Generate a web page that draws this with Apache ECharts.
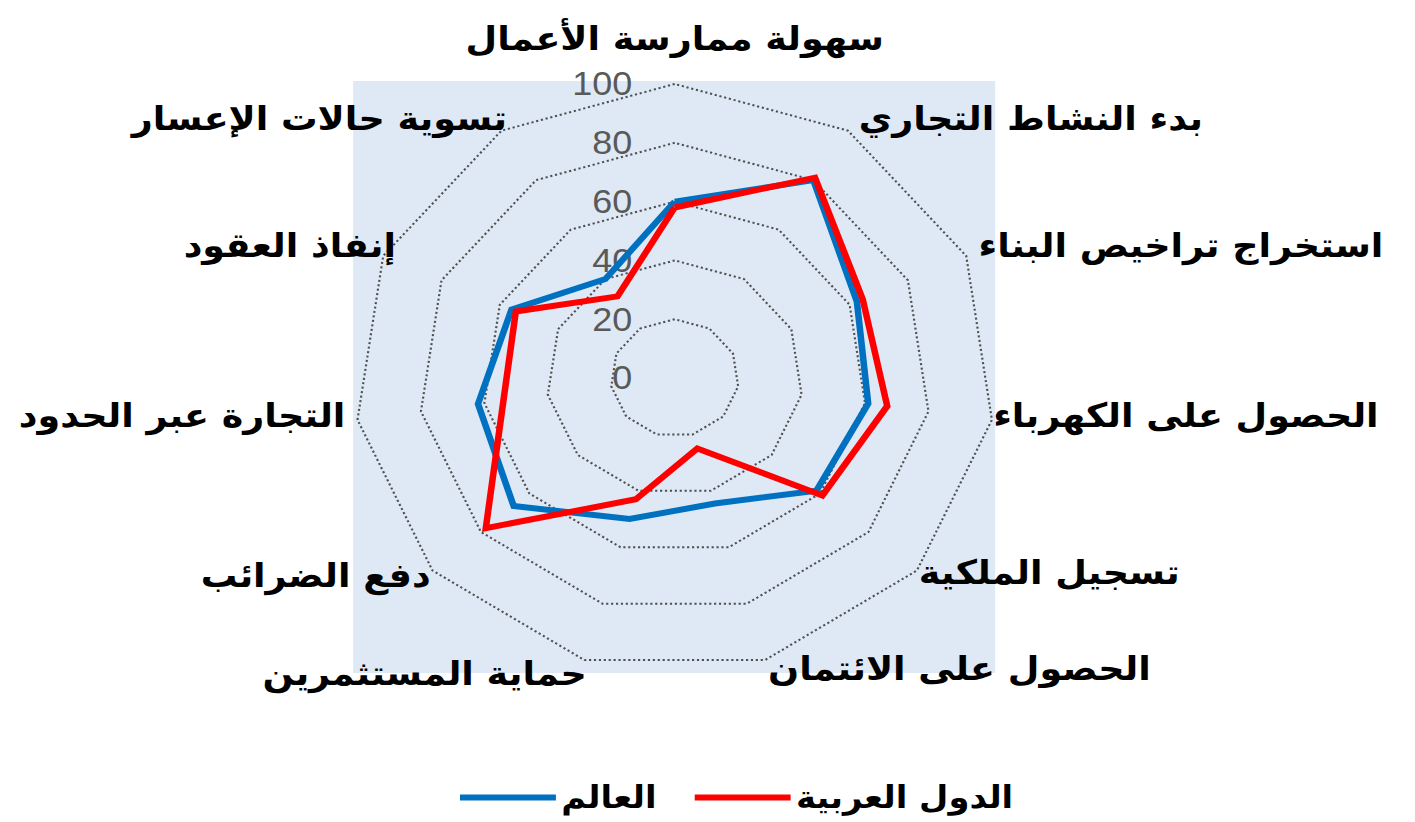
<!DOCTYPE html>
<html><head><meta charset="utf-8">
<script src="https://cdn.jsdelivr.net/npm/echarts@6/dist/echarts.min.js"></script>
<style>
html,body{margin:0;padding:0;background:#fff;overflow:hidden;width:1415px;height:822px}
#wrap{width:1415px;height:822px;overflow:hidden;position:relative}
#chart{width:1298px;height:822px;transform:scaleX(1.09);transform-origin:0 0}
</style></head>
<body><div id="wrap"><div id="chart"></div></div>
<script>
// Indicators in clockwise order starting from the top
const indicatorNames = [
  'سهولة ممارسة الأعمال',
  'بدء النشاط التجاري',
  'استخراج تراخيص البناء',
  'الحصول على الكهرباء',
  'تسجيل الملكية',
  'الحصول على الائتمان',
  'حماية المستثمرين',
  'دفع الضرائب',
  'التجارة عبر الحدود',
  'إنفاذ العقود',
  'تسوية حالات الإعسار'
];
const worldValues = [60, 80, 62.5, 61, 58.5, 44.5, 50, 66.5, 62, 56, 40];
const arabValues  = [58, 81, 64.5, 67, 61, 25, 43, 78, 54, 54.5, 33];
const seriesNames = ['العالم', 'الدول العربية'];
const axisMin = 0, axisMax = 100, axisStep = 20;

// Label placement tweaks (padding [top, right, bottom, left]) per indicator, layout only
const namePadding = [
  [0, 0, 44, 0],
  [0, 0, 50, 18],
  [0, 0, 34, 25],
  [0, 0, 5, 16],
  [23, 0, 0, 13],
  [45, 0, 0, 7],
  [55, 2, 0, 0],
  [29, 13, 0, 0],
  [0, 26, 5, 0],
  [0, 2, 34, 0],
  [0, 3, 50, 0]
];
const nameFont = { fontSize: 33.5, fontWeight: 'bold', color: '#000', fontFamily: 'DejaVu Sans' };

// ECharts places radar indicators counter-clockwise; reorder to get clockwise layout
const order = [0];
for (let i = indicatorNames.length - 1; i >= 1; i--) order.push(i);

const indicators = order.map((idx, k) => {
  const ind = { name: indicatorNames[idx], min: axisMin, max: axisMax };
  if (k === 0) {
    ind.axisLabel = { show: true, color: '#595959', fontSize: 33, fontFamily: 'Liberation Sans', margin: 39 };
  }
  return ind;
});
const reorder = arr => order.map(i => arr[i]);

const rich = {};
indicatorNames.forEach((n, i) => {
  rich['n' + i] = Object.assign({ padding: namePadding[i] }, nameFont);
});

const chart = echarts.init(document.getElementById('chart'), null, { renderer: 'svg' });
chart.setOption({
  animation: false,
  backgroundColor: '#ffffff',
  graphic: [{
    type: 'rect', z: -10, silent: true,
    shape: { x: 324, y: 81, width: 589, height: 592 },
    style: { fill: '#DEE9F5' }
  }],
  legend: {
    data: seriesNames,
    left: 417, top: 777,
    icon: 'rect', itemWidth: 88, itemHeight: 6, itemGap: 35,
    textStyle: { fontSize: 31, fontWeight: 'bold', color: '#000', fontFamily: 'DejaVu Sans' }
  },
  radar: {
    center: [619, 378],
    radius: 294,
    startAngle: 90,
    splitNumber: (axisMax - axisMin) / axisStep,
    shape: 'polygon',
    nameGap: -15,
    axisName: Object.assign({
      formatter: (value) => '{n' + indicatorNames.indexOf(value) + '|' + value + '}',
      rich: rich
    }, nameFont),
    axisLine: { show: false },
    axisTick: { show: false },
    axisLabel: { show: false },
    splitLine: { lineStyle: { color: '#505050', width: 2, type: [2, 2.5] } },
    splitArea: { show: false },
    indicator: indicators
  },
  series: [{
    type: 'radar',
    symbol: 'none',
    data: [
      { name: seriesNames[0], value: reorder(worldValues),
        itemStyle: { color: '#0070C0' }, lineStyle: { color: '#0070C0', width: 6, join: 'miter' } },
      { name: seriesNames[1], value: reorder(arabValues),
        itemStyle: { color: '#FF0000' }, lineStyle: { color: '#FF0000', width: 6, join: 'miter' } }
    ]
  }]
});
</script>
</body></html>
